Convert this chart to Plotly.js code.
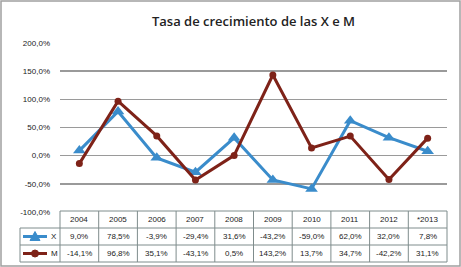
<!DOCTYPE html>
<html><head><meta charset="utf-8">
<script src="https://cdn.plot.ly/plotly-3.0.1.min.js"></script>
<style>html,body{margin:0;padding:0;background:#fff}#c{width:461px;height:267px}</style>
</head><body><div id="c"></div>
<script>
const categories = ['2004','2005','2006','2007','2008','2009','2010','2011','2012','*2013'];
const seriesX = [9.0, 78.5, -3.9, -29.4, 31.6, -43.2, -59.0, 62.0, 32.0, 7.8];
const seriesM = [-14.1, 96.8, 35.1, -43.1, 0.5, 143.2, 13.7, 34.7, -42.2, 31.1];
const yTicks = [-100, -50, 0, 50, 100, 150, 200];

const W = 461, H = 267, L = 60, R = 447, T = 43, B = 212;
const px = x => (x - L) / (R - L);
const py = y => (B - y) / (B - T);
const blue = '#3A8CCB', red = '#7E2218', grid = '#9A9A9A', border = '#7F8C8C';
const fmt = v => v.toFixed(1).replace('.', ',') + '%';

const idx = categories.map((c, i) => i);
const traces = [
  {x: idx, y: seriesX, type: 'scatter', mode: 'lines+markers', name: 'X',
   line: {color: blue, width: 3}, marker: {symbol: 'triangle-up', size: 11, color: blue}},
  {x: idx, y: seriesM, type: 'scatter', mode: 'lines+markers', name: 'M',
   line: {color: red, width: 3}, marker: {symbol: 'circle', size: 7, color: red}}
];

const shapes = [], annotations = [];
const rowY = [211, 228, 245, 262];
const colW = (R - L) / categories.length;
shapes.push({type: 'rect', xref: 'paper', yref: 'paper', x0: px(1), x1: px(460), y0: py(1), y1: py(266), line: {color: '#A0A0A0', width: 1.5}});
shapes.push({type: 'line', xref: 'paper', yref: 'paper', x0: px(L), x1: px(R), y0: py(rowY[0]), y1: py(rowY[0]), line: {color: border, width: 1}});
for (let k = 1; k < rowY.length; k++) {
  shapes.push({type: 'line', xref: 'paper', yref: 'paper', x0: px(20), x1: px(R), y0: py(rowY[k]), y1: py(rowY[k]), line: {color: border, width: 1}});
}
shapes.push({type: 'line', xref: 'paper', yref: 'paper', x0: px(20), x1: px(20), y0: py(rowY[1]), y1: py(rowY[3]), line: {color: border, width: 1}});
for (let k = 0; k <= categories.length; k++) {
  const xx = L + k * colW;
  shapes.push({type: 'line', xref: 'paper', yref: 'paper', x0: px(xx), x1: px(xx), y0: py(rowY[0]), y1: py(rowY[3]), line: {color: border, width: 1}});
}
const tf = {family: 'Liberation Sans, Arial', size: 8, color: '#222'};
categories.forEach((c, i) => {
  const cx = px(L + (i + 0.5) * colW);
  annotations.push({xref: 'paper', yref: 'paper', x: cx, y: py((rowY[0] + rowY[1]) / 2), text: c, showarrow: false, font: tf, xanchor: 'center', yanchor: 'middle'});
  annotations.push({xref: 'paper', yref: 'paper', x: cx, y: py((rowY[1] + rowY[2]) / 2), text: fmt(seriesX[i]), showarrow: false, font: tf, xanchor: 'center', yanchor: 'middle'});
  annotations.push({xref: 'paper', yref: 'paper', x: cx, y: py((rowY[2] + rowY[3]) / 2), text: fmt(seriesM[i]), showarrow: false, font: tf, xanchor: 'center', yanchor: 'middle'});
});
const yX = (rowY[1] + rowY[2]) / 2, yM = (rowY[2] + rowY[3]) / 2;
shapes.push({type: 'line', xref: 'paper', yref: 'paper', x0: px(23), x1: px(47), y0: py(yX), y1: py(yX), line: {color: blue, width: 3}});
shapes.push({type: 'path', xref: 'paper', yref: 'paper', path: `M ${px(30)} ${py(yX+4)} L ${px(40)} ${py(yX+4)} L ${px(35)} ${py(yX-5)} Z`, fillcolor: blue, line: {color: blue, width: 1}});
shapes.push({type: 'line', xref: 'paper', yref: 'paper', x0: px(23), x1: px(47), y0: py(yM), y1: py(yM), line: {color: red, width: 3}});
shapes.push({type: 'circle', xref: 'paper', yref: 'paper', x0: px(31.5), x1: px(38.5), y0: py(yM+3.5), y1: py(yM-3.5), fillcolor: red, line: {color: red, width: 1}});
annotations.push({xref: 'paper', yref: 'paper', x: px(49), y: py(yX), text: 'X', showarrow: false, font: tf, xanchor: 'left', yanchor: 'middle'});
annotations.push({xref: 'paper', yref: 'paper', x: px(49), y: py(yM), text: 'M', showarrow: false, font: tf, xanchor: 'left', yanchor: 'middle'});

const layout = {
  width: W, height: H,
  margin: {l: L, r: W - R, t: T, b: H - B, pad: 0},
  paper_bgcolor: '#fff', plot_bgcolor: '#fff',
  showlegend: false,
  title: {text: 'Tasa de crecimiento de las X e M', x: 0.5, xref: 'paper', xanchor: 'center', y: 1 - 21 / H, yanchor: 'middle',
          font: {family: 'Open Sans, Noto Sans', size: 13, color: '#222', weight: 600}},
  xaxis: {range: [-0.5, categories.length - 0.5], showgrid: false, zeroline: false, showticklabels: false, ticks: '', showline: false, fixedrange: true},
  yaxis: {range: [-100, 200], tickmode: 'array', tickvals: yTicks, ticktext: yTicks.map(fmt), showgrid: true, gridcolor: grid, gridwidth: 1.5,
          zeroline: false, showline: false, ticks: '', ticklabelstandoff: 9,
          tickfont: {family: 'Liberation Sans, Arial', size: 8, color: '#222'}},
  shapes: shapes, annotations: annotations
};
Plotly.newPlot('c', traces, layout, {staticPlot: true, displayModeBar: false});
</script></body></html>
